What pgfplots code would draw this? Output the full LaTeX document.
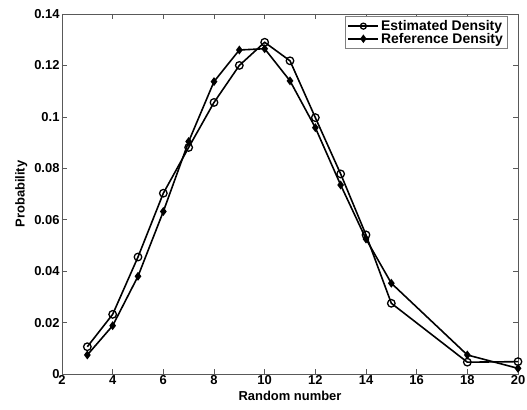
\documentclass[border=0pt]{standalone}
\usepackage{pgfplots}
\pgfplotsset{compat=1.18}
\usepackage{fontspec}
\setmainfont{Liberation Sans}
\begin{document}
\begin{tikzpicture}[x=1bp,y=1bp]
\begin{axis}[
  scale only axis,
  width=456bp, height=360bp,
  xmin=2, xmax=20, ymin=0, ymax=0.14,
  xtick={2,4,...,20},
  ytick={0,0.02,0.04,0.06,0.08,0.1,0.12,0.14},
  yticklabels={0,0.02,0.04,0.06,0.08,0.1,0.12,0.14},
  tick align=inside,
  tick pos=both,
  major tick length=5bp,
  every tick/.style={black!65, line width=0.6pt},
  axis line style={black!65, line width=0.6pt},
  /pgf/number format/assume math mode=true,
  tick label style={font=\fontsize{13}{14}\selectfont\bfseries},
  xticklabel style={yshift=2bp},
  yticklabel style={xshift=1bp},
  label style={font=\fontsize{13}{14}\selectfont\bfseries},
  xlabel={Random number},
  ylabel={Probability},
  xlabel style={yshift=0bp},
  ylabel style={yshift=0bp},
  legend style={at={(rel axis cs:0.976,0.994)}, anchor=north east,
    font=\fontsize{14}{15}\selectfont\bfseries, draw=black!50, line width=0.4pt,
    inner sep=2pt, row sep=-3pt},
  legend image code/.code={\draw[mark repeat=2,mark phase=2,#1] plot coordinates {(0bp,0bp) (15bp,0bp) (30bp,0bp)};},
  legend image post style={mark size=3pt},
  legend cell align=left,
]
\coordinate (bl) at (rel axis cs:0,0);
\coordinate (tr) at (rel axis cs:1,1);
\addplot[black, line width=1.6pt, mark=o, mark size=3.8pt, mark options={line width=1.3pt}] coordinates {
(3,0.0106) (4,0.0232) (5,0.0455) (6,0.0703) (7,0.0881) (8,0.1056) (9,0.1200) (10,0.1290) (11,0.1218) (12,0.0997) (13,0.0778) (14,0.0541) (15,0.0275) (18,0.0046) (20,0.0048)
};
\addlegendentry{Estimated Density}
\addplot[black, line width=1.6pt, mark=diamond*, mark size=3.2pt] coordinates {
(3,0.0074) (4,0.0188) (5,0.0380) (6,0.0632) (7,0.0904) (8,0.1137) (9,0.1260) (10,0.1265) (11,0.1140) (12,0.0958) (13,0.0735) (14,0.0525) (15,0.0353) (18,0.0074) (20,0.0022)
};
\addlegendentry{Reference Density}
\end{axis}
\pgfresetboundingbox
\path[use as bounding box] ([xshift=-62bp,yshift=-36bp]bl) rectangle ([xshift=9bp,yshift=14bp]tr);
\end{tikzpicture}
\end{document}
